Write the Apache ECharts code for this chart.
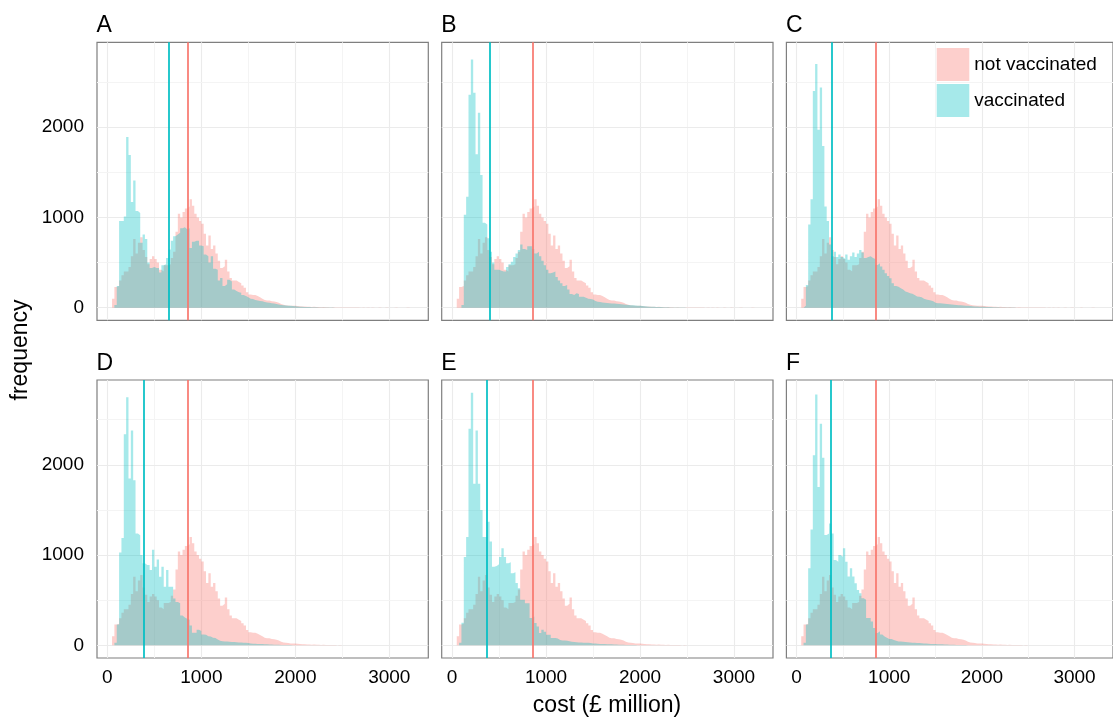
<!DOCTYPE html>
<html>
<head>
<meta charset="utf-8">
<title>cost histograms</title>
<script src="https://cdn.jsdelivr.net/npm/echarts@6/dist/echarts.min.js"></script>
<style>
  html, body { margin: 0; padding: 0; background: #fff; }
  #chart { width: 1113px; height: 722px; }
</style>
</head>
<body>
<div id="chart"></div>
<script>
  // histogram bins: first bin starts at 50, each 25 wide
  var binStart = 50
  var binWidth = 25

  var panelNames = ['A', 'B', 'C', 'D', 'E', 'F']
  var seriesNames = ['not vaccinated', 'vaccinated']

  // same not-vaccinated costs in every panel
  var notVaccinated = [
    100, 230, 240, 300, 360, 400, 400, 450, 570, 760,
    600, 720, 780, 640, 560, 480, 540, 570, 540, 500,
    420, 400, 470, 470, 480, 550, 620, 840, 1040, 1000,
    1060, 1100, 1120, 1200, 1130, 1040, 1000, 960, 930, 820,
    690, 800, 650, 690, 600, 520, 440, 460, 530, 400,
    330, 300, 300, 285, 270, 245, 220, 170, 145, 140,
    140, 130, 115, 100, 85, 80, 78, 70, 67, 63,
    55, 40, 32, 28, 25, 22, 21, 22, 18, 15,
    13, 12, 10, 10, 8, 9, 7, 7, 5, 6,
    4, 5, 3, 4, 3, 2, 3, 2, 2, 1,
    2, 1, 1, 1, 1, 0, 1, 0, 1, 0,
    1, 0, 0, 1, 0, 0, 1, 0, 0, 0,
    1, 0, 0, 0, 0, 1, 0, 1
  ]

  var vaccinatedA = [
    0, 30, 240, 960, 960, 1010, 1890, 1690, 1170, 1410,
    1070, 1050, 720, 810, 760, 500, 440, 450, 440, 440,
    390, 470, 480, 550, 645, 740, 790, 810, 830, 880,
    890, 870, 880, 660, 730, 740, 740, 690, 680, 590,
    570, 500, 570, 430, 420, 300, 330, 240, 260, 310,
    290, 200, 185, 170, 165, 140, 130, 115, 100, 95,
    85, 80, 74, 70, 62, 56, 55, 50, 45, 40,
    35, 30, 28, 25, 22, 20, 18, 15, 12, 10,
    9, 8, 7, 6, 5, 4, 4, 3, 3, 2,
    2, 1, 1, 1, 0, 1
  ]
  var vaccinatedB = [
    0, 0, 30, 1030, 1230, 2360, 2750, 2380, 1700, 2160,
    1470, 940, 920, 770, 620, 500, 420, 420, 410, 400,
    400, 450, 480, 510, 560, 600, 640, 700, 650, 640,
    680, 680, 650, 600, 620, 570, 520, 470, 420, 380,
    390, 400, 340, 300, 270, 240, 250, 200, 150, 140,
    160, 150, 120, 120, 110, 100, 95, 90, 75, 65,
    62, 58, 55, 52, 50, 47, 45, 42, 40, 38,
    35, 33, 30, 28, 26, 24, 22, 20, 18, 15,
    13, 11, 10, 9, 8, 7, 6, 5, 4, 4,
    3, 3, 2, 2, 1, 1, 1, 0, 1
  ]
  var vaccinatedC = [
    0, 20, 250, 920, 1200, 2400, 2700, 1970, 2440, 1790,
    1120, 960, 700, 570, 620, 560, 590, 560, 540, 590,
    530, 570, 610, 560, 600, 640, 610, 550, 560, 570,
    550, 540, 474, 492, 455, 420, 380, 350, 326, 270,
    240, 233, 215, 200, 178, 170, 160, 155, 140, 125,
    120, 115, 100, 90, 85, 80, 70, 55, 50, 48,
    46, 44, 40, 38, 35, 32, 30, 28, 26, 24,
    22, 20, 18, 16, 14, 12, 11, 10, 9, 8,
    7, 6, 5, 5, 4, 3, 3, 2, 2, 1,
    1, 1, 0, 1
  ]
  var vaccinatedD = [
    0, 30, 230, 1030, 1190, 2340, 2750, 1850, 2380, 1830,
    1240, 1220, 1000, 910, 890, 890, 835, 1060, 870, 950,
    760, 870, 650, 835, 650, 650, 520, 480, 467, 330,
    310, 295, 285, 220, 140, 140, 173, 160, 120, 118,
    100, 99, 85, 81, 65, 50, 45, 44, 42, 40,
    38, 36, 34, 33, 32, 30, 28, 25, 20, 18,
    17, 16, 15, 14, 12, 11, 10, 9, 8, 7,
    6, 5, 5, 4, 3, 3, 2, 2, 1, 1,
    1, 0, 1
  ]
  var vaccinatedE = [
    0, 30, 250, 980, 1200, 2400, 2800, 1790, 2380, 1790,
    1500, 1200, 1200, 1370, 1150, 870, 880, 900, 980, 1075,
    980, 910, 920, 800, 810, 690, 633, 504, 504, 467,
    467, 302, 320, 247, 210, 136, 173, 150, 118, 118,
    81, 81, 75, 60, 55, 55, 50, 45, 40, 38,
    35, 33, 33, 30, 30, 28, 25, 22, 20, 18,
    16, 15, 14, 13, 12, 11, 10, 9, 8, 7,
    6, 5, 4, 4, 3, 3, 2, 2, 1, 1,
    1, 0, 1
  ]
  var vaccinatedF = [
    0, 30, 230, 854, 1284, 2105, 2778, 1755, 2454, 2079,
    1222, 1240, 1350, 1240, 946, 927, 1001, 983, 1075, 927,
    762, 854, 762, 688, 614, 577, 523, 504, 302, 302,
    265, 191, 136, 155, 120, 99, 85, 70, 70, 60,
    50, 44, 44, 40, 38, 35, 33, 30, 28, 26,
    25, 24, 22, 20, 18, 16, 15, 14, 13, 12,
    11, 10, 9, 8, 7, 6, 5, 5, 4, 3,
    3, 2, 2, 1, 1, 1, 0, 1
  ]
  var vaccinated = [vaccinatedA, vaccinatedB, vaccinatedC, vaccinatedD, vaccinatedE, vaccinatedF]

  // mean cost lines
  var meanNotVaccinated = 855
  var meanVaccinated = [655, 405, 375, 385, 370, 370]

  // axis ticks / grid lines
  var xTicks = [0, 1000, 2000, 3000]
  var xMinor = [500, 1500, 2500]
  var yTicks = [0, 1000, 2000]
  var yMinor = [500, 1500, 2500]

  var colNV = '#F8766D'
  var colV = '#00BFC4'
  var fillNV = 'rgba(248,118,109,0.35)'
  var fillV = 'rgba(0,191,196,0.35)'
  var font = '"Liberation Sans", Arial, sans-serif'

  // panel layout (px)
  var panelLeft = [97, 441.7, 786.4]
  var panelTop = [42.3, 380]
  var panelW = 331.3
  var panelH = 278

  function histPoints(counts) {
    var pts = counts.map(function (c, i) {
      return [binStart + i * binWidth, c]
    })
    pts.push([binStart + counts.length * binWidth, 0])
    return pts
  }

  function gridLines() {
    var d = []
    xTicks.forEach(function (v) { d.push({ xAxis: v, lineStyle: { color: '#ebebeb', width: 1.1 } }) })
    xMinor.forEach(function (v) { d.push({ xAxis: v, lineStyle: { color: '#f4f4f4', width: 1 } }) })
    yTicks.forEach(function (v) { d.push({ yAxis: v, lineStyle: { color: '#ebebeb', width: 1.1 } }) })
    yMinor.forEach(function (v) { d.push({ yAxis: v, lineStyle: { color: '#f4f4f4', width: 1 } }) })
    return d
  }

  var plain = function (v) { return String(v) }

  var grids = [], xAxes = [], yAxes = [], series = [], graphics = []

  panelNames.forEach(function (name, i) {
    var row = Math.floor(i / 3)
    var col = i % 3
    var bottomRow = row === 1
    var leftCol = col === 0

    grids.push({
      left: panelLeft[col],
      top: panelTop[row],
      width: panelW,
      height: panelH,
      show: true,
      borderColor: '#7f7f7f',
      borderWidth: 1.2,
      backgroundColor: '#fff'
    })

    xAxes.push({
      type: 'value',
      gridIndex: i,
      min: -110,
      max: 3415,
      axisLine: { show: false },
      splitLine: { show: false },
      axisTick: {
        show: bottomRow,
        customValues: xTicks,
        length: 5,
        lineStyle: { color: '#333', width: 1 }
      },
      axisLabel: {
        show: bottomRow,
        customValues: xTicks,
        formatter: plain,
        margin: 10,
        fontSize: 19,
        fontFamily: font,
        color: '#000'
      }
    })

    yAxes.push({
      type: 'value',
      gridIndex: i,
      min: -140,
      max: 2940,
      axisLine: { show: false },
      splitLine: { show: false },
      axisTick: {
        show: leftCol,
        customValues: yTicks,
        length: 5,
        lineStyle: { color: '#333', width: 1 }
      },
      axisLabel: {
        show: leftCol,
        customValues: yTicks,
        formatter: plain,
        margin: 13,
        fontSize: 19,
        fontFamily: font,
        color: '#000'
      }
    })

    series.push({
      name: seriesNames[0],
      type: 'line',
      xAxisIndex: i,
      yAxisIndex: i,
      step: 'end',
      symbol: 'none',
      showSymbol: false,
      silent: true,
      z: 2,
      itemStyle: { color: fillNV },
      lineStyle: { width: 0, opacity: 0 },
      areaStyle: { color: fillNV, opacity: 1 },
      data: histPoints(notVaccinated),
      markLine: {
        silent: true,
        z: 1,
        symbol: ['none', 'none'],
        label: { show: false },
        lineStyle: { type: 'solid' },
        emphasis: { disabled: true },
        data: gridLines()
      }
    })

    series.push({
      name: seriesNames[1],
      type: 'line',
      xAxisIndex: i,
      yAxisIndex: i,
      step: 'end',
      symbol: 'none',
      showSymbol: false,
      silent: true,
      z: 3,
      itemStyle: { color: fillV },
      lineStyle: { width: 0, opacity: 0 },
      areaStyle: { color: fillV, opacity: 1 },
      data: histPoints(vaccinated[i]),
      markLine: {
        silent: true,
        z: 5,
        symbol: ['none', 'none'],
        label: { show: false },
        emphasis: { disabled: true },
        data: [
          { xAxis: meanNotVaccinated, lineStyle: { color: colNV, width: 1.7, type: 'solid' } },
          { xAxis: meanVaccinated[i], lineStyle: { color: colV, width: 1.7, type: 'solid' } }
        ]
      }
    })

    graphics.push({
      type: 'text',
      left: panelLeft[col] - 0.5,
      top: panelTop[row] - 28,
      style: { text: name, fontSize: 23, fontFamily: font, fill: '#000' }
    })
  })

  graphics.push({
    type: 'text',
    x: 21,
    y: 350,
    rotation: Math.PI / 2,
    style: {
      text: 'frequency', fontSize: 23, fontFamily: font, fill: '#000',
      align: 'center', verticalAlign: 'middle'
    }
  })
  graphics.push({
    type: 'text',
    x: 607,
    y: 706,
    style: {
      text: 'cost (£ million)', fontSize: 23, fontFamily: font, fill: '#000',
      align: 'center', verticalAlign: 'middle'
    }
  })

  var option = {
    animation: false,
    backgroundColor: '#fff',
    grid: grids,
    xAxis: xAxes,
    yAxis: yAxes,
    legend: {
      orient: 'vertical',
      left: 936.7,
      top: 48,
      padding: 0,
      itemWidth: 32.6,
      itemHeight: 33,
      itemGap: 3,
      icon: 'rect',
      selectedMode: false,
      textStyle: { fontSize: 19, fontFamily: font, color: '#000' },
      data: [
        { name: seriesNames[0], itemStyle: { color: fillNV } },
        { name: seriesNames[1], itemStyle: { color: fillV } }
      ]
    },
    series: series,
    graphic: graphics
  }

  var myChart = echarts.init(document.getElementById('chart'))
  myChart.setOption(option)
</script>
</body>
</html>
